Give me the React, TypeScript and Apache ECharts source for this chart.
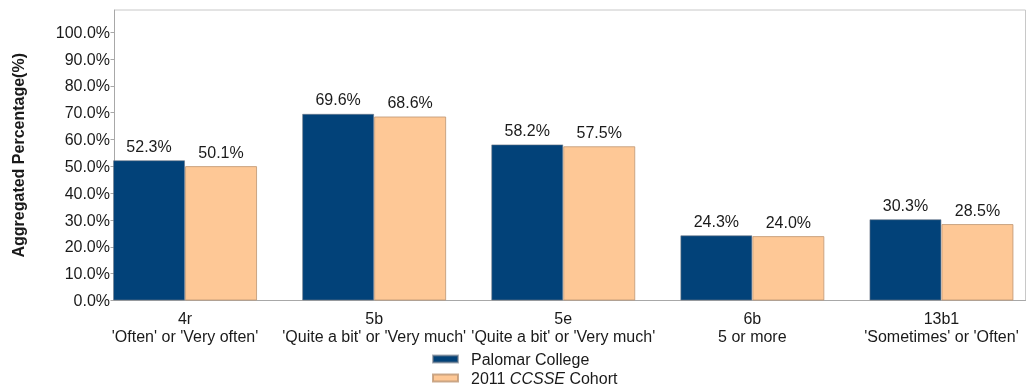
import React, { useEffect, useRef } from "react";
import * as echarts from "echarts";

// Survey items and their response bands
const categories = [
  "4r\n'Often' or 'Very often'",
  "5b\n'Quite a bit' or 'Very much'",
  "5e\n'Quite a bit' or 'Very much'",
  "6b\n5 or more",
  "13b1\n'Sometimes' or 'Often'",
];

const palomarValues = [52.3, 69.6, 58.2, 24.3, 30.3];
const cohortValues = [50.1, 68.6, 57.5, 24.0, 28.5];

const yTicks = [0, 10, 20, 30, 40, 50, 60, 70, 80, 90, 100];

const FONT = "'Liberation Sans', Arial, sans-serif";
const TEXT = "#1a1a1a";
const BLUE = "#024279";
const PEACH = "#fec896";
const Y_MAX = 108.3;

export default function App() {
  const ref = useRef<HTMLDivElement | null>(null);

  useEffect(() => {
    if (!ref.current) return;
    const chart = echarts.init(ref.current, null, { renderer: "svg" });

    const valueLabel = {
      show: true,
      position: "top" as const,
      distance: 6,
      fontFamily: FONT,
      fontSize: 16,
      color: TEXT,
      formatter: (p: any) => `${Number(p.value).toFixed(1)}%`,
    };

    chart.setOption({
      animation: false,
      textStyle: { fontFamily: FONT },
      grid: [
        // framed plot area carrying the percentage axis
        {
          left: 114.5,
          right: 10.5,
          top: 10,
          bottom: 86.5,
          show: true,
          borderColor: "#c8c8c8",
          borderWidth: 1,
          backgroundColor: "transparent",
        },
        // wider band so the bar groups run flush to the frame edges
        {
          left: 90.5,
          width: 959,
          top: 10,
          bottom: 86.5,
        },
      ],
      xAxis: [
        {
          type: "category",
          gridIndex: 0,
          data: categories,
          axisLine: { show: true, lineStyle: { color: "#a8a8a8" } },
          axisTick: { show: false },
          axisLabel: { show: false },
          splitLine: { show: false },
        },
        {
          type: "category",
          gridIndex: 1,
          data: categories,
          axisLine: { show: false },
          axisTick: { show: false },
          axisLabel: {
            show: true,
            margin: 8.5,
            fontFamily: FONT,
            fontSize: 16,
            lineHeight: 18,
            color: TEXT,
            interval: 0,
          },
          splitLine: { show: false },
        },
      ],
      yAxis: [
        {
          type: "value",
          gridIndex: 0,
          min: 0,
          max: Y_MAX,
          interval: 10,
          name: "Aggregated Percentage(%)",
          nameLocation: "middle",
          nameGap: 88,
          nameTextStyle: {
            fontFamily: FONT,
            fontSize: 16,
            fontWeight: "bold",
            color: TEXT,
          },
          axisLine: { show: true, lineStyle: { color: "#a8a8a8" } },
          axisTick: {
            show: true,
            length: 4,
            customValues: yTicks,
            lineStyle: { color: "#a8a8a8" },
          },
          axisLabel: {
            show: true,
            customValues: yTicks,
            margin: 4.5,
            fontFamily: FONT,
            fontSize: 16,
            color: TEXT,
            formatter: (v: number) => `${v.toFixed(1)}%`,
          },
          splitLine: { show: false },
        },
        {
          type: "value",
          gridIndex: 1,
          min: 0,
          max: Y_MAX,
          interval: 10,
          axisLine: { show: false },
          axisTick: { show: false },
          axisLabel: { show: false },
          splitLine: { show: false },
        },
      ],
      legend: {
        orient: "vertical",
        left: 432,
        top: 351,
        padding: 0,
        itemWidth: 25,
        itemHeight: 7,
        itemGap: 3,
        icon: "rect",
        textStyle: {
          fontFamily: FONT,
          fontSize: 16,
          color: TEXT,
          padding: [0, 0, 0, 8],
          rich: {
            n: { fontFamily: FONT, fontSize: 16, color: TEXT },
            i: { fontFamily: FONT, fontSize: 16, color: TEXT, fontStyle: "italic" },
          },
        },
        formatter: (name: string) =>
          name === "2011 CCSSE Cohort"
            ? "{n|2011 }{i|CCSSE}{n| Cohort}"
            : `{n|${name}}`,
        data: ["Palomar College", "2011 CCSSE Cohort"],
      },
      series: [
        {
          name: "Palomar College",
          type: "bar",
          xAxisIndex: 1,
          yAxisIndex: 1,
          data: palomarValues,
          barWidth: 72,
          barGap: "0%",
          itemStyle: {
            color: BLUE,
            borderColor: "rgba(110,120,135,0.6)",
            borderWidth: 1,
          },
          label: valueLabel,
        },
        {
          name: "2011 CCSSE Cohort",
          type: "bar",
          xAxisIndex: 1,
          yAxisIndex: 1,
          data: cohortValues,
          barWidth: 72,
          barGap: "0%",
          itemStyle: {
            color: PEACH,
            borderColor: "rgba(190,150,115,0.8)",
            borderWidth: 1,
          },
          label: valueLabel,
        },
      ],
    });

    return () => chart.dispose();
  }, []);

  return (
    <div
      ref={ref}
      style={{ position: "fixed", left: 0, top: 0, width: 1036, height: 387 }}
    />
  );
}
